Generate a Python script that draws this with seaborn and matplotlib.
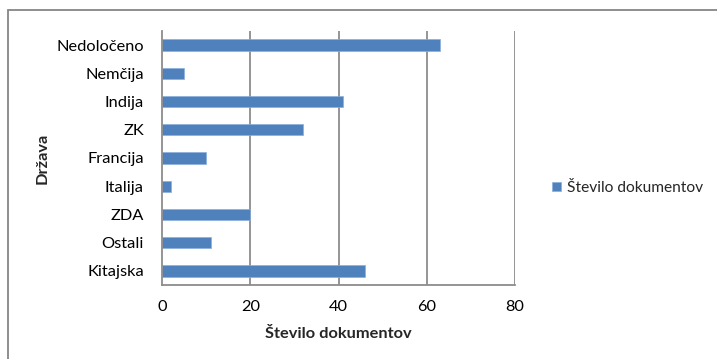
import matplotlib
matplotlib.use("Agg")
import matplotlib.pyplot as plt
import seaborn as sns
import pandas as pd
from matplotlib.patches import Rectangle

categories = ["Nedoločeno", "Nemčija", "Indija", "ZK", "Francija", "Italija", "ZDA", "Ostali", "Kitajska"]
values = [63, 5, 41, 32, 10, 2, 20, 11, 46]
x_ticks = [0, 20, 40, 60, 80]
series_name = "Število dokumentov"

sns.set_theme(style="white")
plt.rcParams['font.family'] = ['Lato', 'DejaVu Sans']

df = pd.DataFrame({"Država": categories, "Število dokumentov": values, "serija": series_name})

W, H = 717, 359
fig = plt.figure(figsize=(W / 100, H / 100), dpi=100)
left, right, top, bottom = 162, 515, 31, 285
ax = fig.add_axes([left / W, 1 - bottom / H, (right - left) / W, (bottom - top) / H])

sns.barplot(data=df, y="Država", x="Število dokumentov", hue="serija", order=categories,
            palette=["#4F81BD"], saturation=1, width=0.4, ax=ax, orient="h", legend=True,
            edgecolor="#8AAEDB", linewidth=0.5)

ax.set_xlim(0, 80)
ax.set_xticks(x_ticks)
ax.set_ylim(len(categories) - 0.5, -0.5)
grid_c = "#8C8C8C"
for t in x_ticks[1:]:
    ax.axvline(t, color=grid_c, lw=1.3, zorder=0)
for s in ["top", "right"]:
    ax.spines[s].set_visible(False)
for s in ["left", "bottom"]:
    ax.spines[s].set_color(grid_c)
    ax.spines[s].set_linewidth(1.3)
fs = 11.8
ax.tick_params(axis="both", length=0, labelsize=fs, colors="#000000")
ax.tick_params(axis="y", pad=13)
ax.tick_params(axis="x", pad=11)
ax.set_xlabel("Število dokumentov", fontsize=fs, fontweight="bold", labelpad=9)
ax.set_ylabel("Država", fontsize=fs, fontweight="bold", labelpad=5)

leg = ax.legend(loc="center left", bbox_to_anchor=(552 / W, 1 - 188 / H),
                bbox_transform=fig.transFigure, frameon=False, fontsize=11.2,
                borderpad=0, borderaxespad=0,
                handlelength=0.6, handleheight=0.6, handletextpad=0.35)

fig.patches.append(Rectangle((8 / W, -0.1), 1.2, 1 - 10.5 / H + 0.1, transform=fig.transFigure,
                             fill=False, edgecolor="#868686", lw=1.3, zorder=10))

fig.savefig("out.png", dpi=100, facecolor="white")
